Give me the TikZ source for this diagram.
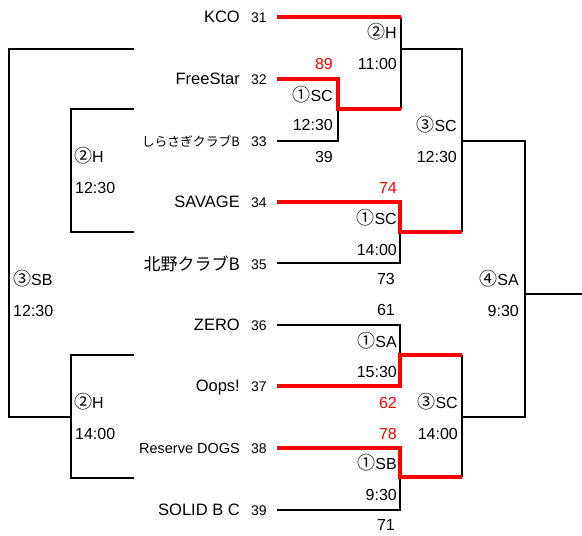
\documentclass[tikz,border=0pt]{standalone}
\usepackage{fontspec}
\setmainfont{Liberation Sans}
\newfontfamily\jp{Noto Sans CJK JP}
\newcommand{\cnum}[1]{{\jp\fontsize{18}{18}\selectfont #1}}
\begin{document}
\begin{tikzpicture}[x=1pt,y=-1pt,
  team/.style={anchor=east, inner sep=0pt, text height=11.8pt, text depth=0pt, font=\fontsize{16.5}{18}\selectfont},
  num/.style={anchor=center, inner sep=0pt, text height=10pt, text depth=0pt, font=\fontsize{14}{16}\selectfont},
  lbl/.style={anchor=east, inner sep=0pt, text height=11.5pt, text depth=0pt, font=\fontsize{16}{18}\selectfont},
  lbll/.style={lbl, anchor=west},
  sc/.style={lbl, text=red},
  ln/.style={draw=black, line width=2pt},
  win/.style={draw=red, line width=4pt, line join=miter}]
\useasboundingbox (0,0) rectangle (582,536);
% teams
\node[team] (n1) at (240,17) {KCO};
\node[team] (n2) at (240,79) {FreeStar};
\node[team, text height=10pt, font=\jp\fontsize{12.8}{14}\selectfont] (n3) at (240,141) {しらさぎクラブB};
\node[team, text height=12.5pt, font=\jp\fontsize{17}{18}\selectfont] (n5) at (240,264) {北野クラブB};
\node[team] (n4) at (240,202) {SAVAGE};
\node[team] (n6) at (240,325) {ZERO};
\node[team] (n7) at (240,386) {Oops!};
\node[team, text height=10.4pt, font=\fontsize{14.5}{16}\selectfont] (n8) at (240,448) {Reserve DOGS};
\node[team] (n9) at (240,510) {SOLID B C};
% numbers
\node[num] (s1) at (259,17) {31};
\node[num] (s2) at (259,79) {32};
\node[num] (s3) at (259,141) {33};
\node[num] (s4) at (259,202) {34};
\node[num] (s5) at (259,264) {35};
\node[num] (s6) at (259,325) {36};
\node[num] (s7) at (259,386) {37};
\node[num] (s8) at (259,448) {38};
\node[num] (s9) at (259,510) {39};
% coordinates
\coordinate (a1) at (277,17);  \coordinate (b1) at (401,17);
\coordinate (a2) at (277,79);  \coordinate (b2) at (338,79);
\coordinate (c2) at (338,109); \coordinate (d2) at (401,109);
\coordinate (a3) at (277,141); \coordinate (b3) at (338,141);
\coordinate (a4) at (277,202); \coordinate (b4) at (400,202);
\coordinate (c4) at (400,232); \coordinate (d4) at (462,232);
\coordinate (a5) at (277,263); \coordinate (b5) at (400,263);
\coordinate (e1) at (401,49);  \coordinate (e2) at (462,49);
\coordinate (f1) at (462,141); \coordinate (f2) at (525,141);
\coordinate (f3) at (525,417); \coordinate (f4) at (462,417);
\coordinate (g1) at (525,294); \coordinate (g2) at (582,294);
\coordinate (a6) at (277,325); \coordinate (b6) at (400,325);
\coordinate (c6) at (400,355); \coordinate (d6) at (462,355);
\coordinate (a7) at (277,386); \coordinate (b7) at (400,386);
\coordinate (a8) at (277,448); \coordinate (b8) at (400,448);
\coordinate (c8) at (400,477); \coordinate (d8) at (462,477);
\coordinate (a9) at (277,510); \coordinate (b9) at (400,510);
\coordinate (l1) at (134,49);  \coordinate (l2) at (9,49);
\coordinate (l3) at (9,417);   \coordinate (l4) at (71,417);
\coordinate (m1) at (134,109); \coordinate (m2) at (71,109);
\coordinate (m3) at (71,232);  \coordinate (m4) at (134,232);
\coordinate (p1) at (134,355); \coordinate (p2) at (71,355);
\coordinate (p3) at (71,478);  \coordinate (p4) at (134,478);
% black lines
\draw[ln] (b1) -- (d2);
\draw[ln] (c2) -- (b3) -- (a3);
\draw[ln] (e1) -- (e2) -- (d4);
\draw[ln] (c4) -- (b5) -- (a5);
\draw[ln] (f1) -- (f2) -- (f3) -- (f4);
\draw[ln] (g1) -- (g2);
\draw[ln] (a6) -- (b6) -- (c6);
\draw[ln] (d6) -- (d8);
\draw[ln] (c8) -- (b9) -- (a9);
\draw[ln] (l1) -- (l2) -- (l3) -- (l4);
\draw[ln] (m1) -- (m2) -- (m3) -- (m4);
\draw[ln] (p1) -- (p2) -- (p3) -- (p4);
% red winner lines
\draw[win] (a1) -- (b1);
\draw[win] (a2) -- (b2) -- (c2) -- (d2);
\draw[win] (a4) -- (b4) -- (c4) -- (d4);
\draw[win] (a7) -- (b7) -- (c6) -- (d6);
\draw[win] (a8) -- (b8) -- (c8) -- (d8);
% labels
\node[sc]  (k1) at (333,64)  {89};
\node[lbl] (k2) at (333,96)  {\cnum{①}SC};
\node[lbl] (k3) at (333,125) {12:30};
\node[lbl] (k4) at (333,157) {39};
\node[lbl] (k5) at (397,33)  {\cnum{②}H};
\node[lbl] (k6) at (397,64)  {11:00};
\node[lbl] (k7) at (457,126) {\cnum{③}SC};
\node[lbl] (k8) at (457,157) {12:30};
\node[sc]  (k9) at (397,188) {74};
\node[lbl] (k10) at (397,219) {\cnum{①}SC};
\node[lbl] (k11) at (397,250) {14:00};
\node[lbl] (k12) at (395,279) {73};
\node[lbl] (k13) at (395,310) {61};
\node[lbl] (k14) at (397,342) {\cnum{①}SA};
\node[lbl] (k15) at (397,372) {15:30};
\node[sc]  (k16) at (397,403) {62};
\node[sc]  (k17) at (397,434) {78};
\node[lbl] (k18) at (397,464) {\cnum{①}SB};
\node[lbl] (k19) at (397,495) {9:30};
\node[lbl] (k20) at (395,525) {71};
\node[lbl] (k21) at (458,403) {\cnum{③}SC};
\node[lbl] (k22) at (458,434) {14:00};
\node[lbl] (k23) at (519,280) {\cnum{④}SA};
\node[lbl] (k24) at (519,311) {9:30};
\node[lbll] (k25) at (74,157) {\cnum{②}H};
\node[lbll] (k26) at (75,188) {12:30};
\node[lbll] (k27) at (13,280) {\cnum{③}SB};
\node[lbll] (k28) at (13,311) {12:30};
\node[lbll] (k29) at (74,403) {\cnum{②}H};
\node[lbll] (k30) at (75,434) {14:00};
\end{tikzpicture}
\end{document}
